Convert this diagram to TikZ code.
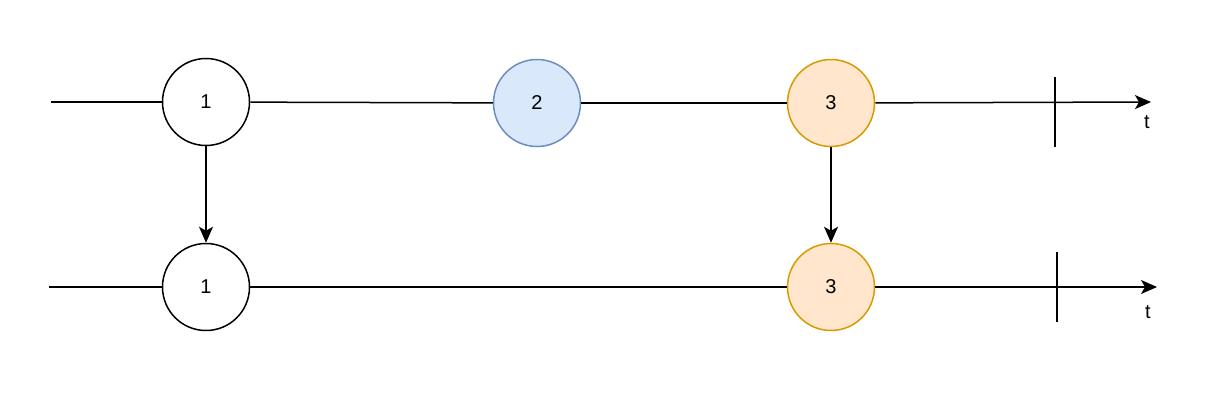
\documentclass[tikz,border=0pt]{standalone}
\usepackage{fontspec}
\setmainfont{Liberation Sans}
\usetikzlibrary{arrows.meta}
\definecolor{bluefill}{HTML}{DAE8FC}
\definecolor{bluestroke}{HTML}{6C8EBF}
\definecolor{orangefill}{HTML}{FFE6CC}
\definecolor{orangestroke}{HTML}{D79B00}
\begin{document}
\begin{tikzpicture}[x=1pt,y=-1pt,
  every node/.style={font=\fontsize{20}{24}\selectfont},
  event/.style={circle,draw=black,line width=1.5pt,minimum size=87pt,inner sep=0pt,fill=white},
  bluev/.style={event,draw=bluestroke,fill=bluefill},
  orangev/.style={event,draw=orangestroke,fill=orangefill},
  line/.style={line width=1.5pt,draw=black},
  arr/.style={line,-{Stealth[length=16pt,width=14pt,inset=4pt]}}]
\useasboundingbox (0,0) rectangle (1228,408);
% top timeline
\coordinate (ts) at (51,102);
\coordinate (te) at (1151,102);
\coordinate (tk1) at (1055,77);
\coordinate (tk2) at (1055,147);
\node[event] (a1) at (206,102) {1};
\node[bluev] (a2) at (537,103) {2};
\node[orangev] (a3) at (831,103) {3};
\draw[line] (ts) -- (a1);
\draw[line] (a1) -- (a2);
\draw[line] (a2) -- (a3);
\draw[arr] (a3) -- (te);
\draw[line] (tk1) -- (tk2);
\node (t1) at (1147,122) {t};
% bottom timeline
\coordinate (bs) at (49,287);
\coordinate (be) at (1157,287);
\coordinate (bk1) at (1057,252);
\coordinate (bk2) at (1057,322);
\node[event] (b1) at (206,287) {1};
\node[orangev] (b3) at (831,287) {3};
\draw[line] (bs) -- (b1);
\draw[line] (b1) -- (b3);
\draw[arr] (b3) -- (be);
\draw[line] (bk1) -- (bk2);
\node (t2) at (1148,312) {t};
% vertical arrows
\draw[arr] (a1) -- (b1);
\draw[arr] (a3) -- (b3);
\end{tikzpicture}
\end{document}
